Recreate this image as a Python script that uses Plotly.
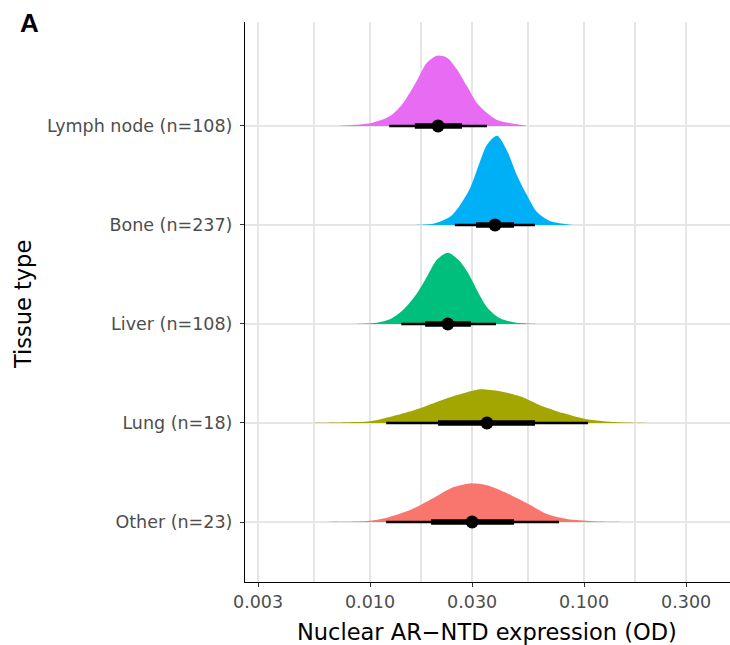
import plotly.graph_objects as go

# ---------------- data ----------------
categories = ["Other (n=23)", "Lung (n=18)", "Liver (n=108)", "Bone (n=237)", "Lymph node (n=108)"]

# density profiles (x in OD, height in category units)
other_x = [0.00541, 0.00968, 0.0120, 0.01538, 0.0197, 0.02443, 0.02934, 0.03522, 0.04367, 0.05416, 0.06717, 0.0833, 0.1102, 0.164]
other_h = [0, 0.010, 0.044, 0.12, 0.24, 0.35, 0.39, 0.37, 0.29, 0.19, 0.08, 0.03, 0.008, 0]

lung_x = [0.00541, 0.00781, 0.0100, 0.01337, 0.01713, 0.0229, 0.0284, 0.03266, 0.04051, 0.05022, 0.06228, 0.07978, 0.1033, 0.1366, 0.210]
lung_h = [0, 0.007, 0.017, 0.081, 0.15, 0.25, 0.31, 0.34, 0.32, 0.27, 0.18, 0.10, 0.037, 0.010, 0]

liver_x = [0.00833, 0.01078, 0.0124, 0.01426, 0.01658, 0.01847, 0.02057, 0.02314, 0.02634, 0.02934, 0.03162, 0.03522, 0.04051, 0.04863, 0.0643]
liver_h = [0, 0.013, 0.047, 0.14, 0.31, 0.48, 0.65, 0.72, 0.63, 0.48, 0.34, 0.17, 0.057, 0.013, 0]

bone_x = [0.01489, 0.0197, 0.02365, 0.02634, 0.02934, 0.03266, 0.03522, 0.03922, 0.04367, 0.04863, 0.05416, 0.06031, 0.06937, 0.0889]
bone_h = [0, 0.013, 0.084, 0.20, 0.37, 0.64, 0.81, 0.90, 0.75, 0.50, 0.30, 0.13, 0.04, 0]

lymph_x = [0.00724, 0.0100, 0.0124, 0.01426, 0.01658, 0.01847, 0.02057, 0.0229, 0.0255, 0.0284, 0.03162, 0.03522, 0.03922, 0.04863, 0.0542]
lymph_h = [0, 0.027, 0.10, 0.23, 0.46, 0.64, 0.71, 0.69, 0.57, 0.40, 0.23, 0.13, 0.06, 0.017, 0]

dens_x = [other_x, lung_x, liver_x, bone_x, lymph_x]
dens_h = [other_h, lung_h, liver_h, bone_h, lymph_h]

# point + interval summaries (order as categories)
median = [0.0300, 0.0352, 0.0231, 0.0384, 0.0208]
lo66 = [0.0193, 0.0208, 0.0181, 0.0313, 0.0162]
hi66 = [0.0471, 0.0590, 0.0296, 0.0471, 0.0269]
lo95 = [0.0119, 0.0119, 0.0140, 0.0249, 0.0123]
hi95 = [0.0764, 0.1044, 0.0388, 0.0590, 0.0352]

x_tickvals = [0.003, 0.01, 0.03, 0.1, 0.3]
x_ticktext = ["0.003", "0.010", "0.030", "0.100", "0.300"]
x_minor = [0.005477, 0.01732, 0.05477, 0.1732]

# ---------------- style ----------------
colors = ["#F8766D", "#A3A500", "#00BF7D", "#00B0F6", "#E76BF3"]
FONT = "DejaVu Sans"
GRID = "#E6E6E6"

fig = go.Figure()

for i, cat in enumerate(categories):
    xs = dens_x[i]
    hs = dens_h[i]
    px = list(xs) + list(reversed(xs))
    py = [i + h for h in hs] + [i] * len(xs)
    fig.add_trace(go.Scatter(
        x=px, y=py, mode="lines", fill="toself",
        fillcolor=colors[i], line=dict(color=colors[i], width=0, shape="spline", smoothing=0.8),
        hoverinfo="skip", showlegend=False))

for i, cat in enumerate(categories):
    fig.add_trace(go.Scatter(x=[lo95[i], hi95[i]], y=[i, i], mode="lines",
                             line=dict(color="black", width=2.6), showlegend=False, hoverinfo="skip"))
    fig.add_trace(go.Scatter(x=[lo66[i], hi66[i]], y=[i, i], mode="lines",
                             line=dict(color="black", width=5.5), showlegend=False, hoverinfo="skip"))
    fig.add_trace(go.Scatter(x=[median[i]], y=[i], mode="markers",
                             marker=dict(color="black", size=13, line=dict(width=0)),
                             showlegend=False, hoverinfo="skip"))

fig.update_layout(
    width=730, height=645,
    margin=dict(l=245, r=0, t=22, b=63),
    paper_bgcolor="white", plot_bgcolor="white",
    font=dict(family=FONT, color="#4D4D4D"),
    xaxis=dict(
        type="log", range=[-2.584, -0.318],
        tickmode="array", tickvals=x_tickvals, ticktext=x_ticktext,
        tickfont=dict(size=17.5, color="#4D4D4D", family=FONT),
        showgrid=True, gridcolor=GRID, gridwidth=1.5,
        minor=dict(tickmode="array", tickvals=x_minor, showgrid=True, gridcolor=GRID, gridwidth=1.5, ticks=""),
        showline=True, linecolor="black", linewidth=1.2,
        ticks="outside", ticklen=4, tickcolor="#333333", tickwidth=1.1,
        zeroline=False, fixedrange=True,
    ),
    yaxis=dict(
        range=[-0.606, 5.05],
        tickmode="array", tickvals=list(range(len(categories))), ticktext=categories,
        tickfont=dict(size=17.5, color="#4D4D4D", family=FONT),
        ticklabelstandoff=4,
        showgrid=True, gridcolor=GRID, gridwidth=1.5,
        showline=True, linecolor="black", linewidth=1.2,
        ticks="outside", ticklen=4, tickcolor="#333333", tickwidth=1.1,
        zeroline=False, fixedrange=True,
    ),
    annotations=[
        dict(text="Nuclear AR\u2212NTD expression (OD)", xref="paper", yref="paper",
             x=0.499, y=-0.0893, xanchor="center", yanchor="middle", showarrow=False,
             font=dict(size=22.5, color="black", family=FONT)),
        dict(text="Tissue type", xref="paper", yref="paper",
             x=-0.4577, y=0.4946, xanchor="center", yanchor="middle", textangle=-90, showarrow=False,
             font=dict(size=22.5, color="black", family=FONT)),
        dict(text="<b>A</b>", xref="paper", yref="paper",
             x=-0.468, y=1.028, xanchor="left", yanchor="top", showarrow=False,
             font=dict(size=26, color="black", family="Liberation Sans")),
    ],
)

fig.write_html("out.html")
